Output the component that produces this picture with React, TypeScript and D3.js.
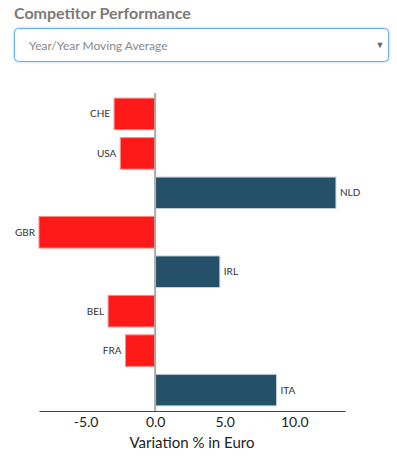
import React, { useEffect, useRef } from "react";
import * as d3 from "d3";

const countries = ["CHE", "USA", "NLD", "GBR", "IRL", "BEL", "FRA", "ITA"];
const variation = [-2.95, -2.5, 13.0, -8.35, 4.65, -3.38, -2.13, 8.73];
const tickValues = [-5, 0, 5, 10];

const App = () => {
  const ref = useRef<SVGSVGElement>(null);

  useEffect(() => {
    const width = 397;
    const height = 463;
    const font = "Lato, 'Source Sans Pro', sans-serif";
    const svg = d3.select(ref.current);
    svg.selectAll("*").remove();
    svg.attr("width", width).attr("height", height).style("font-family", font);

    // header
    svg
      .append("text")
      .attr("x", 14)
      .attr("y", 19)
      .style("font-size", "16px")
      .style("font-weight", "700")
      .style("fill", "#7a7a7a")
      .text("Competitor Performance");

    const defs = svg.append("defs");
    const glow = defs.append("filter").attr("id", "glow").attr("x", "-5%").attr("y", "-30%").attr("width", "110%").attr("height", "160%");
    glow.append("feDropShadow").attr("dx", 0).attr("dy", 0).attr("stdDeviation", 1.5).attr("flood-color", "#66afe9").attr("flood-opacity", 0.6);

    svg
      .append("rect")
      .attr("x", 14.5)
      .attr("y", 28.5)
      .attr("width", 374)
      .attr("height", 33)
      .attr("rx", 4)
      .attr("fill", "#fff")
      .attr("stroke", "#66afe9")
      .attr("filter", "url(#glow)");

    svg
      .append("text")
      .attr("x", 29)
      .attr("y", 50)
      .style("font-size", "12px")
      .style("fill", "#888")
      .text("Year/Year Moving Average");

    svg
      .append("text")
      .attr("x", 380)
      .attr("y", 48)
      .attr("text-anchor", "middle")
      .style("font-size", "9px")
      .style("fill", "#666")
      .text("▼");

    // chart
    const x = d3
      .scaleLinear()
      .domain([d3.min(variation)!, d3.max(variation)! * 1.05])
      .range([39, 345]);

    const y = d3
      .scaleBand()
      .domain(countries)
      .range([93, 411])
      .paddingInner(0.2)
      .paddingOuter(0.13);

    const g = svg.append("g");

    g.selectAll("rect.bar")
      .data(countries)
      .enter()
      .append("rect")
      .attr("class", "bar")
      .attr("x", (d, i) => x(Math.min(0, variation[i])))
      .attr("y", (d) => y(d)!)
      .attr("width", (d, i) => Math.abs(x(variation[i]) - x(0)))
      .attr("height", y.bandwidth())
      .attr("fill", (d, i) => (variation[i] < 0 ? "#ff1a1a" : "#245169"))
      .attr("stroke", (d, i) => (variation[i] < 0 ? "#ff8a8a" : "#c9d3d9"))
      .attr("stroke-width", 1);

    g.selectAll("text.label")
      .data(countries)
      .enter()
      .append("text")
      .attr("class", "label")
      .attr("x", (d, i) => (variation[i] < 0 ? x(variation[i]) - 4 : x(variation[i]) + 4))
      .attr("y", (d) => y(d)! + y.bandwidth() / 2)
      .attr("dy", "0.35em")
      .attr("text-anchor", (d, i) => (variation[i] < 0 ? "end" : "start"))
      .style("font-size", "10px")
      .style("fill", "#333")
      .text((d) => d);

    // zero line
    g.append("line")
      .attr("x1", x(0))
      .attr("x2", x(0))
      .attr("y1", 93)
      .attr("y2", 411)
      .attr("stroke", "#aaa")
      .attr("stroke-width", 2);

    // x axis
    const axis = g
      .append("g")
      .attr("transform", "translate(0,411)")
      .call(
        d3
          .axisBottom(x)
          .tickValues(tickValues)
          .tickFormat((d) => (+d).toFixed(1))
          .tickSize(0)
          .tickPadding(6)
      );
    axis.select(".domain").attr("stroke", "#444").attr("stroke-width", 1.2);
    axis
      .selectAll("text")
      .style("font-size", "14px")
      .style("font-family", font)
      .style("fill", "#222");

    g.append("text")
      .attr("x", 192)
      .attr("y", 448)
      .attr("text-anchor", "middle")
      .style("font-size", "15px")
      .style("fill", "#222")
      .text("Variation % in Euro");
  }, []);

  return (
    <div style={{ position: "absolute", left: 0, top: 0 }}>
      <svg ref={ref}></svg>
    </div>
  );
};

export default App;
